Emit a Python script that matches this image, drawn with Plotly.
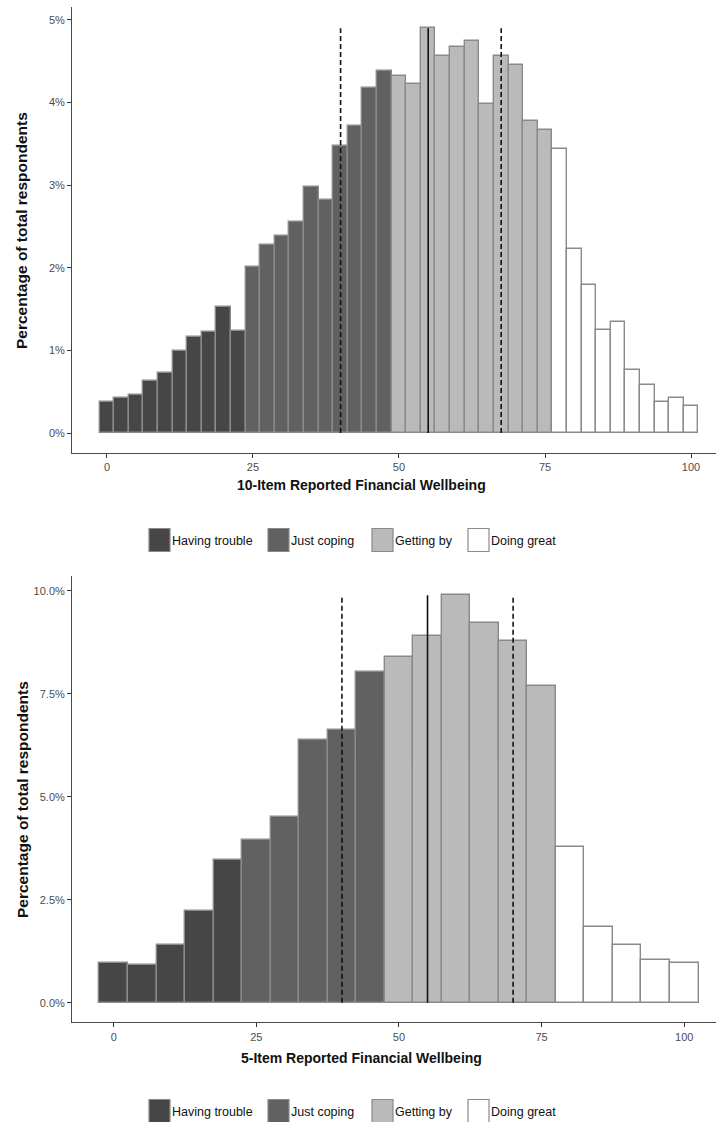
import plotly.graph_objects as go

# ---------------- data ----------------
categories = ["Having trouble", "Just coping", "Getting by", "Doing great"]
cat_colors = ["#464646", "#616161", "#bababa", "#ffffff"]

# 10-item scale (bin width 2.5)
top_bins = [0, 2.5, 5, 7.5, 10, 12.5, 15, 17.5, 20, 22.5,
            25, 27.5, 30, 32.5, 35, 37.5, 40, 42.5, 45, 47.5,
            50, 52.5, 55, 57.5, 60, 62.5, 65, 67.5, 70, 72.5, 75,
            77.5, 80, 82.5, 85, 87.5, 90, 92.5, 95, 97.5, 100]
top_pct = [0.38, 0.42, 0.46, 0.63, 0.73, 0.99, 1.16, 1.22, 1.52, 1.24,
           2.01, 2.28, 2.39, 2.56, 2.98, 2.82, 3.47, 3.72, 4.18, 4.38,
           4.32, 4.23, 4.90, 4.56, 4.67, 4.74, 3.98, 4.56, 4.45, 3.78, 3.67,
           3.44, 2.23, 1.79, 1.25, 1.34, 0.76, 0.58, 0.38, 0.42, 0.33]
top_width = 2.5
top_lines_dashed = [40, 67.5]
top_line_solid = [55]

# 5-item scale (bin width 5)
bot_bins = [0, 5, 10, 15, 20, 25, 30, 35, 40, 45, 50,
            55, 60, 65, 70, 75, 80, 85, 90, 95, 100]
bot_pct = [0.96, 0.92, 1.39, 2.22, 3.46, 3.95, 4.52, 6.37, 6.62, 8.03, 8.40,
           8.90, 9.89, 9.22, 8.77, 7.69, 3.79, 1.83, 1.39, 1.04, 0.96]
bot_width = 5
bot_lines_dashed = [40, 70]
bot_line_solid = [55]

x_ticks = [0, 25, 50, 75, 100]


def category_of(v):
    if v < 25:
        return 0
    if v < 50:
        return 1
    if v <= 75:
        return 2
    return 3


FONT = "Liberation Sans"
OUTLINE = "#8a8a8a"

fig = go.Figure()


def add_hist(bins, pct, width, dashed, solid, xa, ya):
    for ci, cname in enumerate(categories):
        xs = [b for b in bins if category_of(b) == ci]
        ys = [p for b, p in zip(bins, pct) if category_of(b) == ci]
        fig.add_trace(go.Bar(
            x=xs, y=ys, width=width, name=cname,
            marker=dict(color=cat_colors[ci], line=dict(color=OUTLINE, width=1.4)),
            xaxis=xa, yaxis=ya, showlegend=False,
        ))
    top = max(pct)
    for v in dashed:
        fig.add_trace(go.Scatter(
            x=[v, v], y=[0, top], mode="lines",
            line=dict(color="#111111", width=1.6, dash="5px,3px"),
            xaxis=xa, yaxis=ya, showlegend=False, hoverinfo="skip"))
    for v in solid:
        fig.add_trace(go.Scatter(
            x=[v, v], y=[0, top], mode="lines",
            line=dict(color="#111111", width=1.6),
            xaxis=xa, yaxis=ya, showlegend=False, hoverinfo="skip"))


add_hist(top_bins, top_pct, top_width, top_lines_dashed, top_line_solid, "x", "y")
add_hist(bot_bins, bot_pct, bot_width, bot_lines_dashed, bot_line_solid, "x2", "y2")

W, H = 716, 1122
L = 72
PW = W - L

tickfont = dict(family=FONT, size=11, color="#4d4d4d")
axis_common = dict(
    showgrid=False, zeroline=False, showline=True, linecolor="#4a4a4a", linewidth=1,
    ticks="outside", ticklen=4, tickcolor="#333333", tickwidth=1, tickfont=tickfont,
)

fig.update_layout(
    width=W, height=H,
    margin=dict(l=L, r=0, t=0, b=0),
    paper_bgcolor="white", plot_bgcolor="white",
    barmode="overlay", bargap=0,
    showlegend=False,
    xaxis=dict(domain=[0, 1], range=[-5.99, 104.28], tickvals=x_ticks,
               anchor="y", **axis_common),
    yaxis=dict(domain=[1 - 453 / H, 1 - 7 / H], range=[-0.242, 5.157],
               tickvals=[0, 1, 2, 3, 4, 5], ticktext=["0%", "1%", "2%", "3%", "4%", "5%"],
               anchor="x", **axis_common),
    xaxis2=dict(domain=[0, 1], range=[-7.31, 105.56], tickvals=x_ticks,
                anchor="y2", **axis_common),
    yaxis2=dict(domain=[1 - 1022.3 / H, 1 - 576 / H], range=[-0.476, 10.36],
                tickvals=[0, 2.5, 5, 7.5, 10],
                ticktext=["0.0%", "2.5%", "5.0%", "7.5%", "10.0%"],
                anchor="x2", **axis_common),
)


def px_x(p):
    return (p - L) / PW


def px_y(p):
    return 1 - p / H


title_font = dict(family=FONT, size=14, color="#111111", weight="bold")
ytitle_font = dict(family=FONT, size=15.5, color="#111111", weight="bold")
annotations = []
shapes = []

# axis titles
for ycen, xtitle_y, xtitle in [(231, 485, "10-Item Reported Financial Wellbeing"),
                               (800, 1058, "5-Item Reported Financial Wellbeing")]:
    annotations.append(dict(text="Percentage of total respondents", xref="paper", yref="paper",
                            x=px_x(22), y=px_y(ycen), xanchor="center", yanchor="middle",
                            textangle=-90, showarrow=False, font=ytitle_font))
    annotations.append(dict(text=xtitle, xref="paper", yref="paper",
                            x=px_x(361), y=px_y(xtitle_y), xanchor="center", yanchor="middle",
                            showarrow=False, font=title_font))

# legends (drawn keys + text)
key_x = [149, 268, 372, 468]
for ycen in [540, 1111]:
    for ci, cname in enumerate(categories):
        x0 = key_x[ci]
        shapes.append(dict(type="rect", xref="paper", yref="paper",
                           x0=px_x(x0), x1=px_x(x0 + 21),
                           y0=px_y(ycen + 11.5), y1=px_y(ycen - 11.5),
                           fillcolor=cat_colors[ci], line=dict(color=OUTLINE, width=1.2)))
        annotations.append(dict(text=cname, xref="paper", yref="paper",
                                x=px_x(x0 + 21), y=px_y(ycen + 1), xanchor="left",
                                yanchor="middle", showarrow=False,
                                font=dict(family=FONT, size=12.5, color="#111111")))

fig.update_layout(annotations=annotations, shapes=shapes)

fig.write_html("out.html")
